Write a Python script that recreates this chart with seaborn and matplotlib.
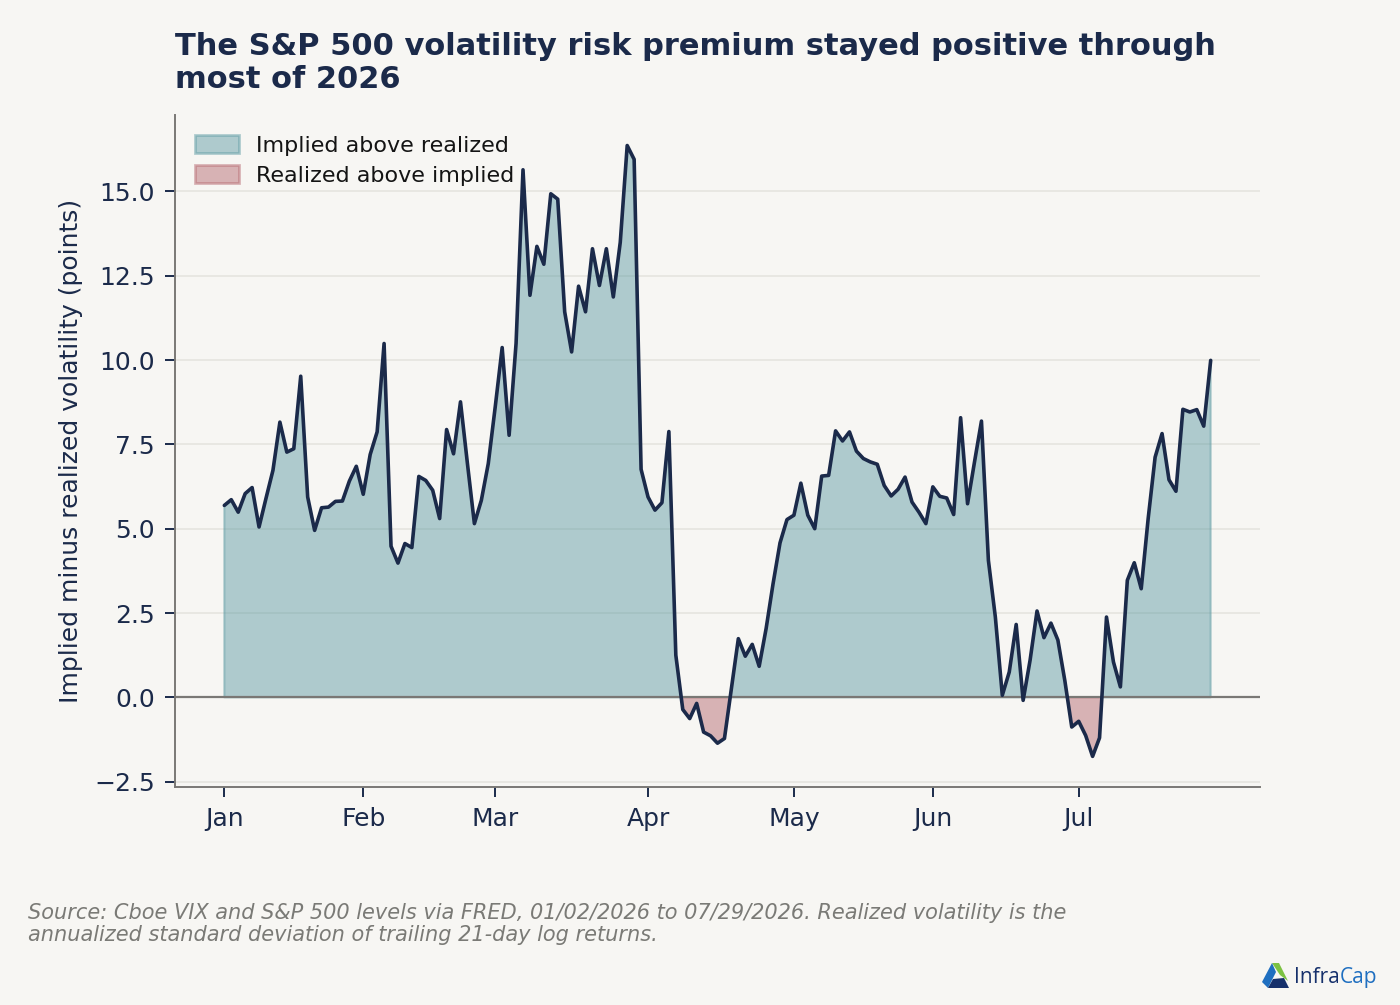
import numpy as np
import pandas as pd
import matplotlib as mpl
import matplotlib.pyplot as plt
from matplotlib.patches import Patch, Polygon
import seaborn as sns

# implied minus realized vol, one value per trading day, grouped by month
JAN = [5.69, 5.86, 5.49, 6.04, 6.22, 5.05, 5.90, 6.73, 8.16, 7.27,
       7.37, 9.52, 5.94, 4.95, 5.62, 5.64, 5.81, 5.82, 6.41, 6.85]
FEB = [6.02, 7.20, 7.87, 10.49, 4.48, 3.98, 4.56, 4.44, 6.55, 6.43,
       6.14, 5.30, 7.94, 7.22, 8.76, 6.93, 5.15, 5.84, 6.93]
MAR = [8.61, 10.37, 7.77, 10.49, 15.64, 11.92, 13.37, 12.84, 14.93, 14.77,
       11.43, 10.24, 12.19, 11.43, 13.30, 12.21, 13.30, 11.87, 13.49, 16.36,
       15.95, 6.76]
APR = [5.94, 5.55, 5.77, 7.88, 1.25, -0.36, -0.63, -0.18, -1.03, -1.14,
       -1.36, -1.22, 0.25, 1.74, 1.22, 1.57, 0.92, 2.04, 3.37, 4.58, 5.27]
MAY = [5.40, 6.35, 5.40, 5.00, 6.56, 6.58, 7.90, 7.60, 7.87, 7.30,
       7.08, 6.98, 6.91, 6.28, 5.97, 6.17, 6.53, 5.79, 5.49, 5.15]
JUN = [6.24, 5.96, 5.91, 5.42, 8.29, 5.74, 6.98, 8.19, 4.06, 2.38,
       0.06, 0.75, 2.16, -0.09, 1.10, 2.56, 1.77, 2.20, 1.70, 0.50, -0.88]
JUL = [-0.71, -1.13, -1.75, -1.20, 2.38, 1.05, 0.31, 3.47, 3.99, 3.22,
       5.30, 7.12, 7.82, 6.45, 6.11, 8.54, 8.46, 8.53, 8.04, 9.99]

MONTHS = ["Jan", "Feb", "Mar", "Apr", "May", "Jun", "Jul"]
MONTH_DATA = [JAN, FEB, MAR, APR, MAY, JUN, JUL]

NAVY = "#1b2a4a"
TEAL = "#55969f"
RED = "#b26169"
BG = "#f7f6f3"

vrp = np.concatenate(MONTH_DATA)
df = pd.DataFrame({"day": np.arange(len(vrp)), "vrp": vrp})
month_starts = np.cumsum([0] + [len(m) for m in MONTH_DATA[:-1]])

sns.set_theme(style="white")
mpl.rcParams.update(
    {
        "figure.facecolor": BG,
        "axes.facecolor": BG,
        "savefig.facecolor": BG,
        "font.family": ["DejaVu Sans"],
        "axes.edgecolor": "#7a7875",
        "xtick.color": NAVY,
        "ytick.color": NAVY,
        "xtick.labelcolor": NAVY,
        "ytick.labelcolor": NAVY,
    }
)

fig = plt.figure(figsize=(14, 10.05), dpi=100)
ax = fig.add_axes([0.125, 0.217, 0.775, 0.6686])

ax.fill_between(df["day"], 0, df["vrp"], where=df["vrp"] >= 0, interpolate=True,
                color=TEAL, alpha=0.45, linewidth=1.5, zorder=2)
ax.fill_between(df["day"], 0, df["vrp"], where=df["vrp"] < 0, interpolate=True,
                color=RED, alpha=0.45, linewidth=1.5, zorder=2)
ax.axhline(0, color="#7a7875", linewidth=1.6, zorder=3)
sns.lineplot(data=df, x="day", y="vrp", color=NAVY, linewidth=2.6, ax=ax, zorder=4)

ax.set_xticks(month_starts)
ax.set_xticklabels(MONTHS)
ax.set_yticks(np.arange(-2.5, 15.1, 2.5))
ax.yaxis.set_major_formatter(mpl.ticker.FuncFormatter(lambda v, p: f"{v:.1f}".replace("-", "\u2212")))
ax.tick_params(axis="both", labelsize=18, length=7, width=1.4, colors=NAVY,
               left=True, bottom=True, pad=7.5)
ax.yaxis.grid(True, color="#e6e4df", linewidth=1.2, zorder=0)
ax.set_axisbelow(True)
ax.set_xlabel("")
ax.set_ylabel("Implied minus realized volatility (points)", fontsize=18,
              color=NAVY, labelpad=8)
sns.despine(ax=ax, top=True, right=True)
for s in ("left", "bottom"):
    ax.spines[s].set_linewidth(1.4)
ax.margins(x=0.05, y=0.05)

handles = [
    Patch(facecolor=TEAL, edgecolor=TEAL, alpha=0.45, linewidth=2, label="Implied above realized"),
    Patch(facecolor=RED, edgecolor=RED, alpha=0.45, linewidth=2, label="Realized above implied"),
]
leg = ax.legend(handles=handles, loc="upper left", frameon=False, fontsize=16,
                handlelength=2.0, handleheight=0.9, borderaxespad=0.5, labelspacing=0.4,
                handletextpad=0.75)
for txt in leg.get_texts():
    txt.set_color("#141414")

fig.text(0.125, 0.968, "The S&P 500 volatility risk premium stayed positive through\nmost of 2026",
         ha="left", va="top", fontsize=22, fontweight="bold", color=NAVY, linespacing=1.15)

fig.text(0.02, 0.1015,
         "Source: Cboe VIX and S&P 500 levels via FRED, 01/02/2026 to 07/29/2026. Realized volatility is the\n"
         "annualized standard deviation of trailing 21-day log returns.",
         ha="left", va="top", fontsize=15, style="italic", color="#7a7a76", linespacing=1.15)

# small InfraCap mark, bottom right
W, H = 1400, 1005
def fpt(x, y):
    return (x / W, 1 - y / H)

fig.patches.append(Polygon([fpt(1272, 963), fpt(1279, 963), fpt(1288, 981), fpt(1280, 975)],
                           closed=True, transform=fig.transFigure, facecolor="#7cc242", edgecolor="none"))
fig.patches.append(Polygon([fpt(1272, 963), fpt(1262, 982), fpt(1268, 988), fpt(1276, 972)],
                           closed=True, transform=fig.transFigure, facecolor="#1f6fc0", edgecolor="none"))
fig.patches.append(Polygon([fpt(1268, 988), fpt(1289, 988), fpt(1284, 978), fpt(1273, 979)],
                           closed=True, transform=fig.transFigure, facecolor="#16306b", edgecolor="none"))
t = fig.text(1294 / W, 1 - 977 / H, "Infra", ha="left", va="center", fontsize=15,
             color="#16306b", family="Open Sans")
fig.canvas.draw()
bb = t.get_window_extent()
fig.text(bb.x1 / W, 1 - 977 / H, "Cap", ha="left", va="center", fontsize=15,
         color="#1f6fc0", family="Open Sans")

fig.savefig("out.png", dpi=100)
